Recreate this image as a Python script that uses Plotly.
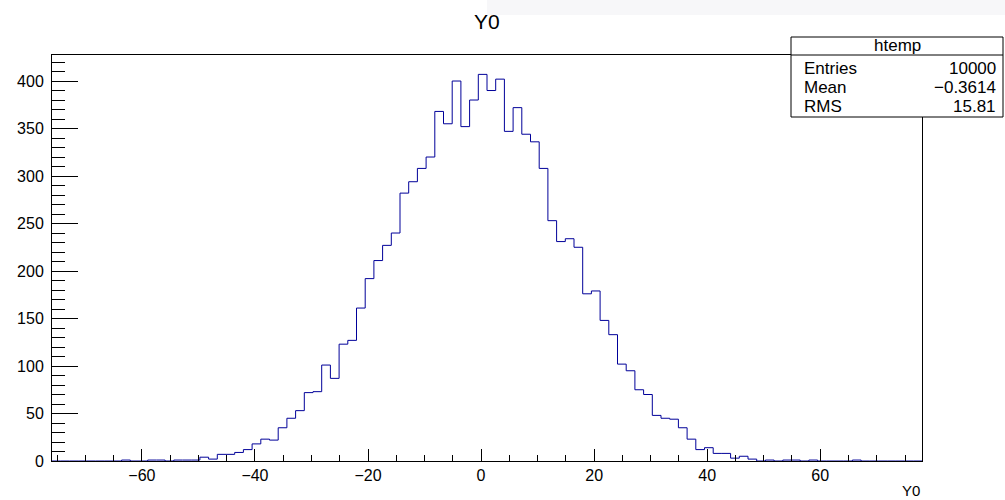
import plotly.graph_objects as go

# ---- data ----
counts = [0, 0, 0, 0, 0, 0, 0, 0, 1, 0,
          0, 1, 1, 0, 1, 1, 1, 4, 2, 7,
          7, 9, 12, 18, 23, 22, 35, 45, 53, 72,
          73, 101, 87, 123, 127, 161, 192, 211, 227, 240,
          282, 294, 308, 320, 368, 355, 400, 352, 380, 407,
          390, 402, 347, 372, 344, 336, 308, 253, 231, 234,
          225, 176, 179, 148, 133, 102, 95, 75, 70, 48,
          45, 44, 35, 23, 12, 14, 8, 8, 3, 5,
          2, 0, 1, 0, 1, 1, 0, 1, 0, 0,
          0, 0, 1, 0, 0, 0, 0, 0, 0, 0]
X_MIN, X_MAX, N_BINS = -75.9, 78.0, 100
Y_MAX = 427.4

title_text = "Y0"
x_title = "Y0"
stats_name = "htemp"
stats_labels = ["Entries", "Mean", "RMS"]
stats_values = ["10000", "\u22120.3614", "15.81"]
x_tickvals = [-60, -40, -20, 0, 20, 40, 60]
y_tickvals = [0, 50, 100, 150, 200, 250, 300, 350, 400]

# ---- geometry (pixels) ----
W, H = 1005, 500
L, R, T, B = 52, 922, 55, 461


def px(xp):
    return (xp - L) / (R - L)


def py(yp):
    return (B - yp) / (B - T)


bw = (X_MAX - X_MIN) / N_BINS
edges = [X_MIN + i * bw for i in range(N_BINS + 1)]
xs = edges[:-1] + [edges[-1]]
ys = counts + [counts[-1]]

FONT = "Liberation Sans, Arial, Helvetica, sans-serif"
LINE_COL = "#000099"

fig = go.Figure()
fig.add_trace(go.Scatter(x=xs, y=ys, mode="lines", line_shape="hv",
                         line=dict(color=LINE_COL, width=1), hoverinfo="skip",
                         showlegend=False))

axis_common = dict(showgrid=False, zeroline=False, showline=True, linecolor="black",
                   linewidth=1, mirror=True, ticks="inside", tickcolor="black",
                   tickwidth=1, layer="above traces",
                   tickfont=dict(family=FONT, size=16, color="black"))

fig.update_xaxes(range=[X_MIN, X_MAX], tickvals=x_tickvals, ticklen=12,
                 minor=dict(dtick=5, tick0=0, ticklen=6, ticks="inside",
                            tickcolor="black", tickwidth=1),
                 **axis_common)
fig.update_yaxes(range=[0, Y_MAX], tickvals=y_tickvals, ticklen=26,
                 ticklabelstandoff=4,
                 minor=dict(dtick=10, tick0=0, ticklen=13, ticks="inside",
                            tickcolor="black", tickwidth=1),
                 **axis_common)

shapes = []
annotations = []

# faint band at top right
shapes.append(dict(type="rect", xref="paper", yref="paper",
                   x0=px(487), x1=px(1005), y0=py(15), y1=py(0),
                   fillcolor="#f7f7f9", line=dict(width=0), layer="below"))

# stats box
bx0, bx1, by0, by1 = 791, 1003, 37, 117
shapes.append(dict(type="rect", xref="paper", yref="paper",
                   x0=px(bx0), x1=px(bx1), y0=py(by1), y1=py(by0),
                   fillcolor="white", line=dict(color="black", width=1), layer="above"))
shapes.append(dict(type="line", xref="paper", yref="paper",
                   x0=px(bx0), x1=px(bx1), y0=py(55), y1=py(55),
                   line=dict(color="black", width=1), layer="above"))

annotations.append(dict(text=stats_name, xref="paper", yref="paper",
                        x=px((bx0 + bx1) / 2), y=py(46), xanchor="center",
                        yanchor="middle", showarrow=False,
                        font=dict(family=FONT, size=17, color="black")))
row_y = [68, 88, 107]
for lab, val, yy in zip(stats_labels, stats_values, row_y):
    annotations.append(dict(text=lab, xref="paper", yref="paper", x=px(802), y=py(yy),
                            xanchor="left", yanchor="middle", showarrow=False,
                            font=dict(family=FONT, size=17, color="black")))
    annotations.append(dict(text=val, xref="paper", yref="paper", x=px(998), y=py(yy),
                            xanchor="right", yanchor="middle", showarrow=False,
                            font=dict(family=FONT, size=17, color="black")))

# title
annotations.append(dict(text=title_text, xref="paper", yref="paper",
                        x=px(487), y=py(21), xanchor="center", yanchor="middle",
                        showarrow=False, font=dict(family=FONT, size=21, color="black")))
# x axis title
annotations.append(dict(text=x_title, xref="paper", yref="paper",
                        x=px(922), y=py(490), xanchor="right", yanchor="middle",
                        showarrow=False, font=dict(family=FONT, size=15, color="black")))

fig.update_layout(width=W, height=H, margin=dict(l=L, r=W - R, t=T, b=H - B),
                  paper_bgcolor="white", plot_bgcolor="white",
                  shapes=shapes, annotations=annotations)

fig.write_html("out.html")
